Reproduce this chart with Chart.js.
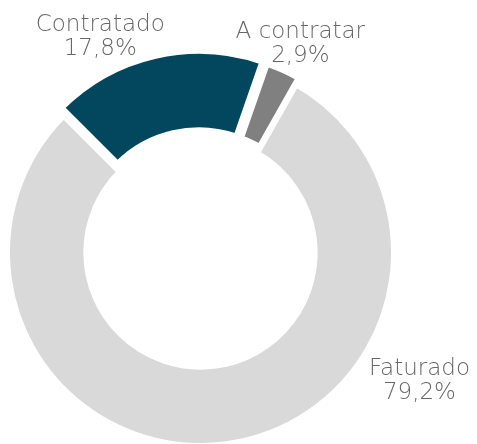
<!DOCTYPE html>
<html>
<head>
<meta charset="utf-8">
<script src="https://cdn.jsdelivr.net/npm/chart.js@4"></script>
<style>
  html, body { margin: 0; padding: 0; background: #fff; overflow: hidden; }
  #caixa { position: relative; width: 477px; height: 444px; overflow: hidden; }
  #grafico { position: absolute; left: -20px; top: 0; }
</style>
</head>
<body>
<div id="caixa"><canvas id="grafico" width="520" height="470"></canvas></div>
<script>
// Dados do gráfico
const categorias = ['Contratado', 'A contratar', 'Faturado'];
const valores = [17.8, 2.9, 79.2];
const rotulos = ['17,8%', '2,9%', '79,2%'];
const cores = ['#03475f', '#808080', '#d9d9d9'];

// fatias destacadas (offset do Chart.js)
const destaques = [30, 15, 0];
// posição manual dos rótulos em relação à borda da fatia (px)
const ajusteRotulos = [[-57, -27], [20, -32], [193, -63]];

// Plugin simples para escrever os rótulos fora do anel
const pluginRotulos = {
  id: 'rotulos',
  afterDatasetsDraw(chart) {
    const ctx = chart.ctx;
    const arcos = chart.getDatasetMeta(0).data;
    ctx.save();
    ctx.font = '200 23px "DejaVu Sans"';
    ctx.fillStyle = '#676767';
    ctx.textAlign = 'center';
    ctx.textBaseline = 'middle';
    arcos.forEach((arco, i) => {
      const meio = (arco.startAngle + arco.endAngle) / 2;
      const x = arco.x + Math.cos(meio) * arco.outerRadius + ajusteRotulos[i][0];
      const y = arco.y + Math.sin(meio) * arco.outerRadius + ajusteRotulos[i][1];
      ctx.fillText(categorias[i], x, y - 12);
      ctx.fillText(rotulos[i], x, y + 12);
    });
    ctx.restore();
  }
};

const ctx = document.getElementById('grafico').getContext('2d');
new Chart(ctx, {
  type: 'doughnut',
  data: {
    labels: categorias,
    datasets: [{
      data: valores,
      backgroundColor: cores,
      borderColor: '#ffffff',
      borderWidth: 6,
      offset: destaques,
      hoverOffset: 0
    }]
  },
  options: {
    responsive: false,
    animation: false,
    events: [],
    rotation: -45,
    cutout: '59%',
    // área do gráfico: quadrado de 423px centrado em (220.5, 252.5) no canvas
    layout: { padding: { left: 9, top: 41, right: 88, bottom: 6 } },
    plugins: {
      legend: { display: false },
      tooltip: { enabled: false }
    }
  },
  plugins: [pluginRotulos]
});
</script>
</body>
</html>
